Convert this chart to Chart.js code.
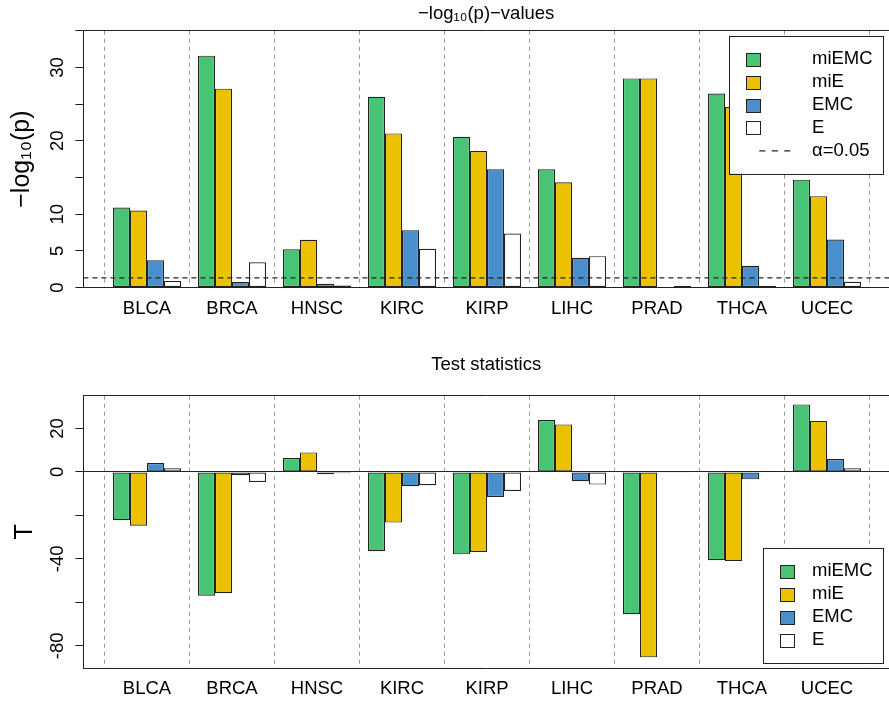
<!DOCTYPE html>
<html>
<head>
<meta charset="utf-8">
<script src="https://cdn.jsdelivr.net/npm/chart.js@4"></script>
<style>
  html, body { margin: 0; padding: 0; background: #fff; overflow: hidden; }
  .panel { position: absolute; left: 0; width: 889px; }
  canvas { display: block; }
</style>
</head>
<body>
<div class="panel" style="top:0;height:340px"><canvas id="pvalChart" width="889" height="340"></canvas></div>
<div class="panel" style="top:340px;height:361px"><canvas id="statChart" width="889" height="361"></canvas></div>
<script>
const cancers = ["BLCA", "BRCA", "HNSC", "KIRC", "KIRP", "LIHC", "PRAD", "THCA", "UCEC"];
const methods = ["miEMC", "miE", "EMC", "E"];
const colors = ["#48c475", "#ecc100", "#4a8fcb", "#ffffff"];

// -log10(p) per cancer type
const logpMiEMC = [10.9, 31.6, 5.2, 26.0, 20.55, 16.1, 28.5, 26.45, 14.7];
const logpMiE   = [10.5, 27.1, 6.5, 21.0, 18.6, 14.35, 28.5, 24.6, 12.45];
const logpEMC   = [3.7, 0.76, 0.5, 7.8, 16.1, 4.04, 0.08, 2.95, 6.55];
const logpE     = [0.9, 3.45, 0.27, 5.27, 7.36, 4.27, 0.2, 0.22, 0.77];

// test statistics per cancer type
const tMiEMC = [-22.2, -56.9, 6.4, -36.5, -37.9, 23.9, -65.5, -40.6, 31.1];
const tMiE   = [-24.7, -55.8, 9.0, -23.3, -36.8, 21.9, -85.3, -41.0, 23.5];
const tEMC   = [4.1, -1.5, -1.1, -6.6, -11.5, -4.3, -0.1, -3.4, 6.0];
const tE     = [1.7, -4.6, -0.6, -6.1, -8.7, -5.8, -0.4, 0.5, 1.7];

const alpha = 0.05;
const logpTicks = [0, 5, 10, 15, 20, 25, 30];
const logpLabels = [0, 5, 10, 20, 30];
const tTicks = [-80, -60, -40, -20, 0, 20];
const tLabels = [-80, -40, 0, 20];

Chart.defaults.font.family = '"Liberation Sans", Arial, Helvetica, sans-serif';
Chart.defaults.color = "#000";

const ink = "#222";
// x range in group units, chosen so the bar edges land on whole pixels
const xMin = -0.7482, xMax = 8.7295;

// R-style boxed legend drawn inside the plot
const boxLegend = {
    id: "boxLegend",
    afterDraw(chart, args, o) {
        const ctx = chart.ctx, a = chart.chartArea;
        const x0 = Math.round(a.right - o.right - o.width);
        const y0 = Math.round(o.top != null ? a.top + o.top : a.bottom - o.bottom - o.height);
        ctx.save();
        ctx.fillStyle = "#fff";
        ctx.fillRect(x0, y0, o.width, o.height);
        ctx.strokeStyle = ink;
        ctx.lineWidth = 1;
        ctx.strokeRect(x0 + 0.5, y0 + 0.5, Math.round(o.width), Math.round(o.height));
        ctx.font = '18.5px "Liberation Sans", Arial, sans-serif';
        ctx.textBaseline = "middle";
        chart.data.datasets.forEach((ds, i) => {
            const y = y0 + o.first + i * o.row;
            if (ds.type === "line") {
                ctx.setLineDash([6, 6.5]);
                ctx.lineWidth = 1.3;
                ctx.strokeStyle = ink;
                ctx.beginPath();
                ctx.moveTo(x0 + o.lineX, y);
                ctx.lineTo(x0 + o.lineX + 32, y);
                ctx.stroke();
                ctx.setLineDash([]);
            } else {
                const sx = Math.round(x0 + o.symX), sy = Math.round(y - 6.5);
                ctx.fillStyle = ds.backgroundColor;
                ctx.fillRect(sx, sy, 14, 13);
                ctx.strokeStyle = ink;
                ctx.lineWidth = 1;
                ctx.strokeRect(sx + 0.5, sy + 0.5, 14, 13);
            }
            ctx.fillStyle = "#000";
            ctx.fillText(ds.label, x0 + o.textX, y);
        });
        ctx.restore();
    }
};

function barSets(series) {
    return series.map((vals, k) => ({
        type: "bar",
        label: methods[k],
        data: vals.map((v, i) => ({ x: i, y: v })),
        backgroundColor: colors[k],
        borderColor: ink,
        borderWidth: 1.2,
        borderSkipped: false,
        categoryPercentage: 0.8,
        barPercentage: 1,
        order: 1
    }));
}

function xAxis(height) {
    return {
        type: "linear",
        min: xMin,
        max: xMax,
        offset: false,
        bounds: "data",
        afterBuildTicks: s => { s.ticks = cancers.map((c, i) => ({ value: i })); },
        afterFit: s => { s.height = height; },
        ticks: {
            callback: v => cancers[v],
            font: { size: 18.5 },
            padding: 10.2,
            maxRotation: 0,
            autoSkip: false
        },
        grid: { offset: true, drawTicks: false, color: "#999", lineWidth: 1 },
        border: { color: ink, width: 1, dash: [4, 4] }
    };
}

function yAxis(min, max, ticks, labels, title, labelPad, titlePad, markTop) {
    return {
        min: min,
        max: max,
        afterBuildTicks: s => { s.ticks = ticks.concat([max]).map(v => ({ value: v })); },
        afterFit: s => { s.width = 83.4; },
        ticks: {
            minRotation: 90,
            maxRotation: 90,
            crossAlign: "center",
            padding: labelPad,
            font: { size: 18.5 },
            callback: v => labels.includes(v) ? String(v) : ""
        },
        grid: {
            drawTicks: true,
            tickLength: 8,
            lineWidth: 1,
            color: c => (c.tick && (c.tick.value === 0 || c.tick.value === max)) ? ink : "rgba(0,0,0,0)",
            tickColor: c => (c.tick && c.tick.value === max && !markTop) ? "rgba(0,0,0,0)" : ink
        },
        border: { color: ink, width: 1 },
        title: { display: true, text: title, font: { size: 25 }, padding: { top: titlePad, bottom: 0 } }
    };
}

const thr = -Math.log10(alpha);

new Chart(document.getElementById("pvalChart"), {
    type: "bar",
    data: {
        datasets: barSets([logpMiEMC, logpMiE, logpEMC, logpE]).concat([{
            type: "line",
            label: "α=" + alpha.toFixed(2),
            data: [{ x: xMin, y: thr }, { x: xMax, y: thr }],
            borderColor: ink,
            borderWidth: 1.3,
            borderDash: [5, 4],
            pointRadius: 0,
            fill: false,
            order: 0
        }])
    },
    options: {
        responsive: false,
        animation: false,
        events: [],
        layout: { padding: 0 },
        scales: {
            x: xAxis(52.5),
            y: yAxis(0, 35, logpTicks, logpLabels, "−log₁₀(p)", 7.6, 7.3, true)
        },
        plugins: {
            legend: { display: false },
            tooltip: { enabled: false },
            title: {
                display: true,
                text: "−log₁₀(p)−values",
                fullSize: false,
                font: { size: 18.5, weight: "normal" },
                color: "#000",
                padding: { top: 2.9, bottom: 5.6 }
            },
            boxLegend: { right: 6.3, top: 5, width: 154, height: 137.6, first: 23.3, row: 22.9, symX: 17, lineX: 30.3, textX: 83 }
        }
    },
    plugins: [boxLegend]
});

new Chart(document.getElementById("statChart"), {
    type: "bar",
    data: {
        datasets: barSets([tMiEMC, tMiE, tEMC, tE])
    },
    options: {
        responsive: false,
        animation: false,
        events: [],
        layout: { padding: 0 },
        scales: {
            x: xAxis(33),
            y: yAxis(-90.2, 35.1, tTicks, tLabels, "T", 4.5, 10, false)
        },
        plugins: {
            legend: { display: false },
            tooltip: { enabled: false },
            title: {
                display: true,
                text: "Test statistics",
                fullSize: false,
                font: { size: 18.5, weight: "normal" },
                color: "#000",
                padding: { top: 13.9, bottom: 19.6 }
            },
            boxLegend: { right: 6.3, bottom: 5.3, width: 120, height: 115, first: 23, row: 23.1, symX: 17.3, textX: 49 }
        }
    },
    plugins: [boxLegend]
});
</script>
</body>
</html>
